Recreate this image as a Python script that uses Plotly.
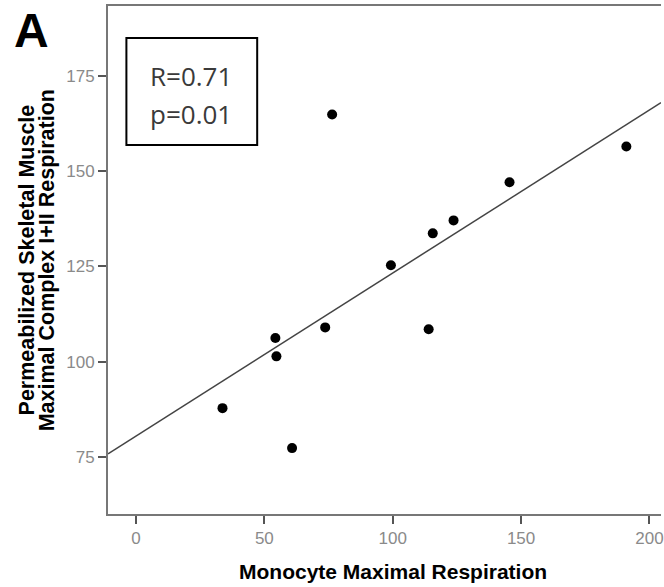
import numpy as np
import plotly.graph_objects as go

# Data
monocyte = [33.7, 54.3, 54.7, 60.8, 73.7, 76.4, 99.3, 114.0, 115.6, 123.7, 145.5, 191.0]
muscle = [87.8, 106.2, 101.4, 77.3, 109.0, 164.9, 125.3, 108.5, 133.7, 137.1, 147.1, 156.5]
x_ticks = [0, 50, 100, 150, 200]
y_ticks = [75, 100, 125, 150, 175]
x_range = [-10.9, 204.5]
y_range = [60.0, 193.4]
x_title = "Monocyte Maximal Respiration"
y_title_lines = ["Permeabilized Skeletal Muscle", "Maximal Complex I+II Respiration"]
stats_lines = ["R=0.71", "p=0.01"]
panel_label = "A"

slope, intercept = np.polyfit(monocyte, muscle, 1)
line_x = np.array(x_range)
line_y = slope * line_x + intercept

W, H = 664, 587
ml, mr, mt, mb = 108, 0, 6, 73
pw, ph = W - ml - mr, H - mt - mb

def px(x):
    return (x - ml) / pw

def py(y):
    return (H - mb - y) / ph

fig = go.Figure()
fig.add_trace(go.Scatter(x=line_x, y=line_y, mode="lines",
                         line=dict(color="#444444", width=1.5), hoverinfo="skip"))
fig.add_trace(go.Scatter(x=monocyte, y=muscle, mode="markers",
                         marker=dict(color="black", size=10)))

tickfont = dict(family="Liberation Sans, Arial", size=17, color="#8a8a8a")
titlefont = dict(family="Liberation Sans, Arial", size=21, color="black")

fig.update_layout(
    width=W, height=H, showlegend=False,
    margin=dict(l=ml, r=mr, t=mt, b=mb),
    plot_bgcolor="white", paper_bgcolor="white",
    xaxis=dict(range=x_range, tickvals=x_ticks, showgrid=False, zeroline=False,
               showline=True, linecolor="#777777", linewidth=2, mirror=True,
               ticks="outside", ticklen=8, tickcolor="#555555", tickwidth=1.5,
               tickfont=tickfont, ticklabeloverflow="allow"),
    yaxis=dict(range=y_range, tickvals=y_ticks, showgrid=False, zeroline=False,
               showline=True, linecolor="#777777", linewidth=2,
               ticks="outside", ticklen=8, tickcolor="#555555", tickwidth=1.5,
               tickfont=tickfont, ticklabeloverflow="allow"),
)

# x-axis title
fig.add_annotation(xref="paper", yref="paper", x=px(395), y=py(571),
                   text="<b>" + x_title + "</b>", showarrow=False,
                   font=titlefont, xanchor="center", yanchor="middle")
# y-axis title (two lines)
for xpos, txt in zip([27, 47], y_title_lines):
    fig.add_annotation(xref="paper", yref="paper", x=px(xpos), y=py(260),
                       text="<b>" + txt + "</b>", showarrow=False, textangle=-90,
                       font=dict(family="Liberation Sans, Arial", size=21.5, color="black"),
                       xanchor="center", yanchor="middle")

fig.add_shape(type="rect", xref="paper", yref="paper",
              x0=px(126.5), x1=px(258), y0=py(145), y1=py(38),
              line=dict(color="black", width=2), fillcolor="white")
for ypos, txt in zip([76, 114], stats_lines):
    fig.add_annotation(xref="paper", yref="paper", x=px(191), y=py(ypos),
                       text=txt, showarrow=False,
                       font=dict(family="Open Sans, Liberation Sans", size=26, color="#3a3a3a"),
                       xanchor="center", yanchor="middle")
fig.add_annotation(xref="paper", yref="paper", x=px(31), y=py(30),
                   text="<b>" + panel_label + "</b>", showarrow=False,
                   font=dict(family="Liberation Sans", size=48, color="black"),
                   xanchor="center", yanchor="middle")

fig.write_html("out.html")
